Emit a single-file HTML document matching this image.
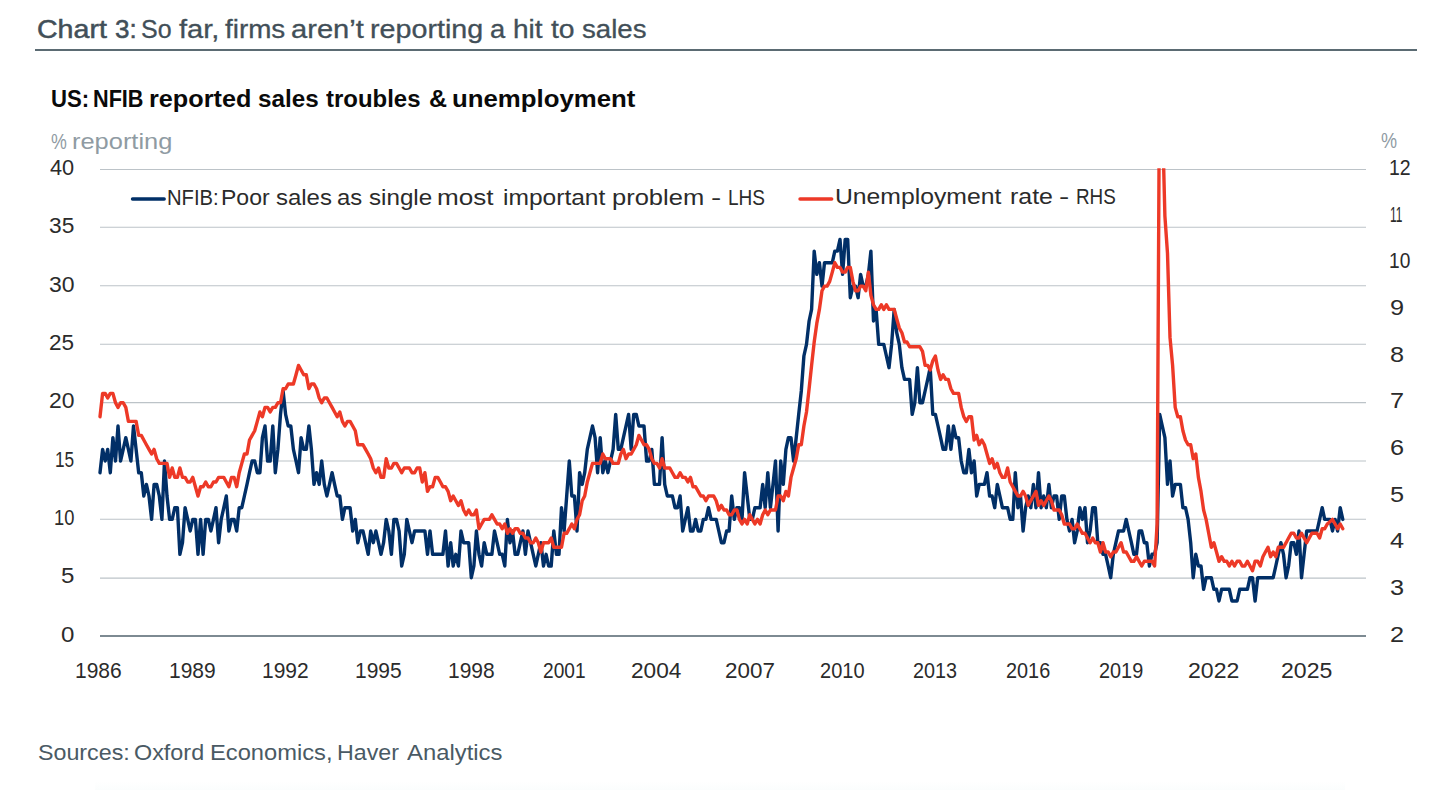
<!DOCTYPE html>
<html><head><meta charset="utf-8"><title>Chart 3</title>
<style>
html,body{margin:0;padding:0;background:#fff;}
body{width:1440px;height:790px;position:relative;overflow:hidden;font-family:"Liberation Sans",sans-serif;}
.tx{position:absolute;white-space:nowrap;transform-origin:0 0;}
.t{color:#424f58;-webkit-text-stroke:0.3px #424f58}
.t.b{-webkit-text-stroke:0.5px #424f58}
.hr{position:absolute;left:34.5px;top:49px;width:1382px;height:2px;background:#5b6b73}
.st{font-weight:bold;color:#0a0a0a}
.ax{color:#8f9ba3}
.tk{color:#2b2b2b}
.lg{color:#2b2b2b}
.src{color:#4a5a64}
svg{position:absolute;left:0;top:0}
</style></head><body>
<div class="tx t b" style="left:37.32px;top:17.05px;font-size:25px;line-height:25px;transform:scaleX(1.1423)">Chart</div>
<div class="tx t b" style="left:115.26px;top:17.05px;font-size:25px;line-height:25px;transform:scaleX(1.0400)">3:</div>
<div class="tx t" style="left:141.35px;top:17.05px;font-size:25px;line-height:25px;transform:scaleX(0.9982)">So</div>
<div class="tx t" style="left:178.51px;top:17.05px;font-size:25px;line-height:25px;transform:scaleX(1.1628)">far,</div>
<div class="tx t" style="left:225.22px;top:17.05px;font-size:25px;line-height:25px;transform:scaleX(1.1132)">firms</div>
<div class="tx t" style="left:291.34px;top:17.05px;font-size:25px;line-height:25px;transform:scaleX(1.1641)">aren’t</div>
<div class="tx t" style="left:369.99px;top:17.05px;font-size:25px;line-height:25px;transform:scaleX(1.1475)">reporting</div>
<div class="tx t" style="left:490.21px;top:17.05px;font-size:25px;line-height:25px;transform:scaleX(1.0923)">a</div>
<div class="tx t" style="left:513.04px;top:17.05px;font-size:25px;line-height:25px;transform:scaleX(1.1224)">hit</div>
<div class="tx t" style="left:551.43px;top:17.05px;font-size:25px;line-height:25px;transform:scaleX(1.1325)">to</div>
<div class="tx t" style="left:581.67px;top:17.05px;font-size:25px;line-height:25px;transform:scaleX(1.1048)">sales</div>
<div class="hr"></div>
<div class="tx st" style="left:50.85px;top:87.70px;font-size:23px;line-height:23px;transform:scaleX(0.9639)">US:</div>
<div class="tx st" style="left:93.09px;top:87.70px;font-size:23px;line-height:23px;transform:scaleX(0.9412)">NFIB</div>
<div class="tx st" style="left:148.85px;top:87.70px;font-size:23px;line-height:23px;transform:scaleX(1.0970)">reported</div>
<div class="tx st" style="left:258.01px;top:87.70px;font-size:23px;line-height:23px;transform:scaleX(1.0529)">sales</div>
<div class="tx st" style="left:326.04px;top:87.70px;font-size:23px;line-height:23px;transform:scaleX(1.0413)">troubles</div>
<div class="tx st" style="left:428.91px;top:87.70px;font-size:23px;line-height:23px;transform:scaleX(1.0867)">&amp;</div>
<div class="tx st" style="left:452.12px;top:87.70px;font-size:23px;line-height:23px;transform:scaleX(1.1215)">unemployment</div>
<div class="tx ax" style="left:51.08px;top:131.50px;font-size:21.5px;line-height:21.5px;transform:scaleX(0.8286)">%</div>
<div class="tx ax" style="left:71.63px;top:131.50px;font-size:21.5px;line-height:21.5px;transform:scaleX(1.1829)">reporting</div>
<div class="tx ax" style="left:1381.06px;top:131.30px;font-size:21.5px;line-height:21.5px;letter-spacing:0.00px;transform:scale(0.8412,1.000);">%</div>
<svg width="1440" height="790" viewBox="0 0 1440 790">
<line x1="100" x2="1366" y1="578.10" y2="578.10" stroke="#bcc3c8" stroke-width="1.05"/>
<line x1="100" x2="1366" y1="519.30" y2="519.30" stroke="#bcc3c8" stroke-width="1.05"/>
<line x1="100" x2="1366" y1="460.90" y2="460.90" stroke="#bcc3c8" stroke-width="1.05"/>
<line x1="100" x2="1366" y1="402.60" y2="402.60" stroke="#bcc3c8" stroke-width="1.05"/>
<line x1="100" x2="1366" y1="344.30" y2="344.30" stroke="#bcc3c8" stroke-width="1.05"/>
<line x1="100" x2="1366" y1="285.75" y2="285.75" stroke="#bcc3c8" stroke-width="1.05"/>
<line x1="100" x2="1366" y1="227.30" y2="227.30" stroke="#bcc3c8" stroke-width="1.05"/>
<line x1="100" x2="1366" y1="169.40" y2="169.40" stroke="#bcc3c8" stroke-width="1.05"/>
<rect x="100" y="635" width="1266" height="2" fill="#7d8a92"/>
<defs><clipPath id="cp"><rect x="90" y="168.3" width="1290" height="480"/></clipPath></defs>
<g clip-path="url(#cp)" fill="none" stroke-linejoin="round" stroke-linecap="round" stroke-width="3.4">
<path d="M100.0,472.7 L102.6,449.4 L105.2,461.0 L107.7,449.4 L110.3,472.7 L112.9,437.7 L115.5,461.0 L118.0,426.0 L120.6,461.0 L123.2,449.4 L125.8,437.7 L128.4,449.4 L130.9,461.0 L133.5,426.0 L136.1,449.4 L138.7,472.7 L141.3,472.7 L143.8,496.0 L146.4,484.4 L149.0,496.0 L151.6,519.4 L154.1,484.4 L156.7,484.4 L159.3,496.0 L161.9,519.4 L164.5,461.0 L167.0,496.0 L169.6,519.4 L172.2,519.4 L174.8,507.7 L177.4,507.7 L179.9,554.3 L182.5,542.7 L185.1,507.7 L187.7,519.4 L190.2,531.0 L192.8,519.4 L195.4,519.4 L198.0,554.3 L200.6,519.4 L203.1,554.3 L205.7,519.4 L208.3,519.4 L210.9,531.0 L213.5,519.4 L216.0,507.7 L218.6,542.7 L221.2,519.4 L223.8,507.7 L226.3,496.0 L228.9,531.0 L231.5,519.4 L234.1,519.4 L236.7,531.0 L239.2,507.7 L241.8,507.7 L244.4,496.0 L247.0,484.4 L249.5,472.7 L252.1,461.0 L254.7,461.0 L257.3,472.7 L259.9,472.7 L262.4,437.7 L265.0,426.0 L267.6,461.0 L270.2,461.0 L272.8,426.0 L275.3,472.7 L277.9,449.4 L280.5,414.4 L283.1,391.0 L285.6,414.4 L288.2,426.0 L290.8,426.0 L293.4,449.4 L296.0,461.0 L298.5,472.7 L301.1,437.7 L303.7,449.4 L306.3,449.4 L308.9,426.0 L311.4,449.4 L314.0,484.4 L316.6,472.7 L319.2,484.4 L321.7,461.0 L324.3,484.4 L326.9,496.0 L329.5,484.4 L332.1,472.7 L334.6,484.4 L337.2,496.0 L339.8,496.0 L342.4,519.4 L344.9,507.7 L347.5,507.7 L350.1,507.7 L352.7,531.0 L355.3,519.4 L357.8,542.7 L360.4,531.0 L363.0,531.0 L365.6,542.7 L368.2,554.3 L370.7,531.0 L373.3,542.7 L375.9,531.0 L378.5,542.7 L381.0,554.3 L383.6,542.7 L386.2,519.4 L388.8,531.0 L391.4,554.3 L393.9,519.4 L396.5,519.4 L399.1,531.0 L401.7,566.0 L404.3,554.3 L406.8,519.4 L409.4,531.0 L412.0,542.7 L414.6,531.0 L417.1,531.0 L419.7,531.0 L422.3,531.0 L424.9,531.0 L427.5,554.3 L430.0,531.0 L432.6,554.3 L435.2,554.3 L437.8,554.3 L440.4,554.3 L442.9,554.3 L445.5,531.0 L448.1,566.0 L450.7,542.7 L453.2,566.0 L455.8,554.3 L458.4,566.0 L461.0,531.0 L463.6,542.7 L466.1,542.7 L468.7,542.7 L471.3,577.7 L473.9,566.0 L476.4,531.0 L479.0,554.3 L481.6,566.0 L484.2,542.7 L486.8,554.3 L489.3,554.3 L491.9,554.3 L494.5,531.0 L497.1,542.7 L499.7,554.3 L502.2,554.3 L504.8,566.0 L507.4,519.4 L510.0,542.7 L512.5,531.0 L515.1,554.3 L517.7,554.3 L520.3,542.7 L522.9,531.0 L525.4,554.3 L528.0,531.0 L530.6,542.7 L533.2,554.3 L535.8,566.0 L538.3,554.3 L540.9,542.7 L543.5,566.0 L546.1,554.3 L548.6,566.0 L551.2,566.0 L553.8,531.0 L556.4,554.3 L559.0,554.3 L561.5,507.7 L564.1,531.0 L566.7,496.0 L569.3,461.0 L571.8,496.0 L574.4,496.0 L577.0,531.0 L579.6,472.7 L582.2,484.4 L584.7,472.7 L587.3,449.4 L589.9,437.7 L592.5,426.0 L595.1,437.7 L597.6,472.7 L600.2,437.7 L602.8,472.7 L605.4,461.0 L607.9,472.7 L610.5,461.0 L613.1,449.4 L615.7,414.4 L618.3,449.4 L620.8,449.4 L623.4,437.7 L626.0,426.0 L628.6,414.4 L631.2,449.4 L633.7,414.4 L636.3,414.4 L638.9,426.0 L641.5,426.0 L644.0,426.0 L646.6,461.0 L649.2,461.0 L651.8,449.4 L654.4,484.4 L656.9,484.4 L659.5,484.4 L662.1,437.7 L664.7,484.4 L667.3,496.0 L669.8,496.0 L672.4,496.0 L675.0,507.7 L677.6,507.7 L680.1,496.0 L682.7,531.0 L685.3,519.4 L687.9,507.7 L690.5,531.0 L693.0,531.0 L695.6,519.4 L698.2,531.0 L700.8,531.0 L703.3,519.4 L705.9,519.4 L708.5,507.7 L711.1,519.4 L713.7,519.4 L716.2,519.4 L718.8,531.0 L721.4,542.7 L724.0,542.7 L726.6,531.0 L729.1,531.0 L731.7,496.0 L734.3,519.4 L736.9,507.7 L739.4,507.7 L742.0,519.4 L744.6,472.7 L747.2,496.0 L749.8,519.4 L752.3,519.4 L754.9,507.7 L757.5,507.7 L760.1,507.7 L762.7,484.4 L765.2,507.7 L767.8,472.7 L770.4,507.7 L773.0,484.4 L775.5,461.0 L778.1,531.0 L780.7,461.0 L783.3,484.4 L785.9,449.4 L788.4,437.7 L791.0,437.7 L793.6,461.0 L796.2,437.7 L798.7,414.4 L801.3,391.0 L803.9,356.0 L806.5,344.4 L809.1,321.0 L811.6,309.4 L814.2,251.1 L816.8,274.4 L819.4,262.7 L822.0,286.1 L824.5,262.7 L827.1,262.7 L829.7,262.7 L832.3,262.7 L834.8,251.1 L837.4,251.1 L840.0,239.4 L842.6,274.4 L845.2,239.4 L847.7,239.4 L850.3,297.7 L852.9,286.1 L855.5,286.1 L858.1,297.7 L860.6,274.4 L863.2,286.1 L865.8,286.1 L868.4,274.4 L870.9,251.1 L873.5,321.0 L876.1,309.4 L878.7,344.4 L881.3,344.4 L883.8,344.4 L886.4,356.0 L889.0,367.7 L891.6,344.4 L894.2,309.4 L896.7,332.7 L899.3,344.4 L901.9,367.7 L904.5,379.4 L907.0,379.4 L909.6,379.4 L912.2,414.4 L914.8,402.7 L917.4,367.7 L919.9,402.7 L922.5,402.7 L925.1,391.0 L927.7,379.4 L930.2,367.7 L932.8,414.4 L935.4,414.4 L938.0,426.0 L940.6,437.7 L943.1,449.4 L945.7,449.4 L948.3,426.0 L950.9,449.4 L953.5,426.0 L956.0,437.7 L958.6,437.7 L961.2,461.0 L963.8,472.7 L966.3,472.7 L968.9,449.4 L971.5,472.7 L974.1,461.0 L976.7,496.0 L979.2,484.4 L981.8,484.4 L984.4,484.4 L987.0,472.7 L989.6,496.0 L992.1,496.0 L994.7,507.7 L997.3,484.4 L999.9,496.0 L1002.4,507.7 L1005.0,507.7 L1007.6,507.7 L1010.2,519.4 L1012.8,519.4 L1015.3,472.7 L1017.9,507.7 L1020.5,496.0 L1023.1,531.0 L1025.6,507.7 L1028.2,496.0 L1030.8,507.7 L1033.4,484.4 L1036.0,507.7 L1038.5,472.7 L1041.1,507.7 L1043.7,496.0 L1046.3,507.7 L1048.9,484.4 L1051.4,507.7 L1054.0,496.0 L1056.6,496.0 L1059.2,519.4 L1061.7,496.0 L1064.3,496.0 L1066.9,519.4 L1069.5,531.0 L1072.1,519.4 L1074.6,542.7 L1077.2,531.0 L1079.8,507.7 L1082.4,519.4 L1085.0,507.7 L1087.5,542.7 L1090.1,531.0 L1092.7,507.7 L1095.3,507.7 L1097.8,542.7 L1100.4,542.7 L1103.0,554.3 L1105.6,554.3 L1108.2,566.0 L1110.7,577.7 L1113.3,554.3 L1115.9,542.7 L1118.5,531.0 L1121.1,531.0 L1123.6,531.0 L1126.2,519.4 L1128.8,531.0 L1131.4,542.7 L1133.9,554.3 L1136.5,554.3 L1139.1,531.0 L1141.7,531.0 L1144.3,542.7 L1146.8,542.7 L1149.4,566.0 L1152.0,554.3 L1154.6,554.3 L1157.1,542.7 L1159.7,414.4 L1162.3,426.0 L1164.9,437.7 L1167.5,484.4 L1170.0,461.0 L1172.6,496.0 L1175.2,484.4 L1177.8,484.4 L1180.4,484.4 L1182.9,507.7 L1185.5,507.7 L1188.1,519.4 L1190.7,542.7 L1193.2,577.7 L1195.8,554.3 L1198.4,566.0 L1201.0,566.0 L1203.6,589.3 L1206.1,577.7 L1208.7,577.7 L1211.3,577.7 L1213.9,589.3 L1216.5,589.3 L1219.0,601.0 L1221.6,589.3 L1224.2,589.3 L1226.8,589.3 L1229.3,589.3 L1231.9,601.0 L1234.5,601.0 L1237.1,601.0 L1239.7,589.3 L1242.2,589.3 L1244.8,589.3 L1247.4,589.3 L1250.0,577.7 L1252.5,577.7 L1255.1,601.0 L1257.7,577.7 L1260.3,577.7 L1262.9,577.7 L1265.4,577.7 L1268.0,577.7 L1270.6,577.7 L1273.2,577.7 L1275.8,566.0 L1278.3,554.3 L1280.9,542.7 L1283.5,554.3 L1286.1,577.7 L1288.6,566.0 L1291.2,542.7 L1293.8,542.7 L1296.4,554.3 L1299.0,531.0 L1301.5,577.7 L1304.1,554.3 L1306.7,531.0 L1309.3,531.0 L1311.9,531.0 L1314.4,531.0 L1317.0,531.0 L1319.6,519.4 L1322.2,507.7 L1324.7,519.4 L1327.3,519.4 L1329.9,519.4 L1332.5,531.0 L1335.1,519.4 L1337.6,531.0 L1340.2,507.7 L1342.8,519.4" stroke="#012f67"/>
<path d="M100.0,416.7 L102.6,393.4 L105.2,393.4 L107.7,398.0 L110.3,393.4 L112.9,393.4 L115.5,402.7 L118.0,407.4 L120.6,402.7 L123.2,402.7 L125.8,407.4 L128.4,421.4 L130.9,421.4 L133.5,421.4 L136.1,421.4 L138.7,435.4 L141.3,435.4 L143.8,440.0 L146.4,444.7 L149.0,449.4 L151.6,454.0 L154.1,449.4 L156.7,458.7 L159.3,463.4 L161.9,463.4 L164.5,463.4 L167.0,463.4 L169.6,477.4 L172.2,468.0 L174.8,477.4 L177.4,477.4 L179.9,468.0 L182.5,477.4 L185.1,477.4 L187.7,482.0 L190.2,482.0 L192.8,477.4 L195.4,486.7 L198.0,496.0 L200.6,486.7 L203.1,486.7 L205.7,482.0 L208.3,486.7 L210.9,486.7 L213.5,482.0 L216.0,482.0 L218.6,477.4 L221.2,477.4 L223.8,477.4 L226.3,482.0 L228.9,486.7 L231.5,477.4 L234.1,477.4 L236.7,486.7 L239.2,472.7 L241.8,463.4 L244.4,454.0 L247.0,454.0 L249.5,440.0 L252.1,435.4 L254.7,430.7 L257.3,421.4 L259.9,412.0 L262.4,416.7 L265.0,407.4 L267.6,407.4 L270.2,412.0 L272.8,407.4 L275.3,407.4 L277.9,402.7 L280.5,402.7 L283.1,388.7 L285.6,388.7 L288.2,384.0 L290.8,384.0 L293.4,384.0 L296.0,374.7 L298.5,365.4 L301.1,370.0 L303.7,374.7 L306.3,374.7 L308.9,388.7 L311.4,384.0 L314.0,384.0 L316.6,388.7 L319.2,398.0 L321.7,402.7 L324.3,398.0 L326.9,398.0 L329.5,402.7 L332.1,407.4 L334.6,412.0 L337.2,416.7 L339.8,412.0 L342.4,421.4 L344.9,426.0 L347.5,421.4 L350.1,421.4 L352.7,426.0 L355.3,430.7 L357.8,444.7 L360.4,444.7 L363.0,444.7 L365.6,449.4 L368.2,454.0 L370.7,458.7 L373.3,468.0 L375.9,472.7 L378.5,468.0 L381.0,477.4 L383.6,477.4 L386.2,458.7 L388.8,468.0 L391.4,468.0 L393.9,463.4 L396.5,463.4 L399.1,468.0 L401.7,472.7 L404.3,468.0 L406.8,468.0 L409.4,468.0 L412.0,472.7 L414.6,472.7 L417.1,468.0 L419.7,468.0 L422.3,482.0 L424.9,472.7 L427.5,491.4 L430.0,486.7 L432.6,486.7 L435.2,477.4 L437.8,477.4 L440.4,482.0 L442.9,486.7 L445.5,486.7 L448.1,491.4 L450.7,500.7 L453.2,496.0 L455.8,500.7 L458.4,505.4 L461.0,500.7 L463.6,510.0 L466.1,514.7 L468.7,510.0 L471.3,514.7 L473.9,514.7 L476.4,510.0 L479.0,528.7 L481.6,524.0 L484.2,519.4 L486.8,519.4 L489.3,519.4 L491.9,514.7 L494.5,519.4 L497.1,524.0 L499.7,524.0 L502.2,528.7 L504.8,524.0 L507.4,533.3 L510.0,528.7 L512.5,533.3 L515.1,528.7 L517.7,528.7 L520.3,533.3 L522.9,533.3 L525.4,538.0 L528.0,538.0 L530.6,542.7 L533.2,542.7 L535.8,538.0 L538.3,542.7 L540.9,552.0 L543.5,542.7 L546.1,542.7 L548.6,542.7 L551.2,538.0 L553.8,547.3 L556.4,547.3 L559.0,547.3 L561.5,547.3 L564.1,533.3 L566.7,533.3 L569.3,528.7 L571.8,524.0 L574.4,528.7 L577.0,519.4 L579.6,514.7 L582.2,500.7 L584.7,496.0 L587.3,482.0 L589.9,472.7 L592.5,463.4 L595.1,463.4 L597.6,463.4 L600.2,463.4 L602.8,454.0 L605.4,458.7 L607.9,458.7 L610.5,458.7 L613.1,463.4 L615.7,463.4 L618.3,463.4 L620.8,454.0 L623.4,449.4 L626.0,458.7 L628.6,454.0 L631.2,454.0 L633.7,449.4 L636.3,444.7 L638.9,435.4 L641.5,440.0 L644.0,444.7 L646.6,444.7 L649.2,449.4 L651.8,458.7 L654.4,463.4 L656.9,463.4 L659.5,468.0 L662.1,458.7 L664.7,468.0 L667.3,468.0 L669.8,468.0 L672.4,472.7 L675.0,477.4 L677.6,477.4 L680.1,472.7 L682.7,477.4 L685.3,477.4 L687.9,482.0 L690.5,477.4 L693.0,486.7 L695.6,486.7 L698.2,491.4 L700.8,496.0 L703.3,496.0 L705.9,500.7 L708.5,496.0 L711.1,496.0 L713.7,496.0 L716.2,500.7 L718.8,510.0 L721.4,505.4 L724.0,510.0 L726.6,510.0 L729.1,514.7 L731.7,514.7 L734.3,510.0 L736.9,510.0 L739.4,519.4 L742.0,524.0 L744.6,519.4 L747.2,524.0 L749.8,514.7 L752.3,519.4 L754.9,524.0 L757.5,519.4 L760.1,524.0 L762.7,514.7 L765.2,510.0 L767.8,514.7 L770.4,510.0 L773.0,510.0 L775.5,510.0 L778.1,496.0 L780.7,496.0 L783.3,500.7 L785.9,491.4 L788.4,496.0 L791.0,477.4 L793.6,468.0 L796.2,458.7 L798.7,444.7 L801.3,444.7 L803.9,426.0 L806.5,412.0 L809.1,388.7 L811.6,365.4 L814.2,342.0 L816.8,323.4 L819.4,309.4 L822.0,290.7 L824.5,286.1 L827.1,286.1 L829.7,281.4 L832.3,272.1 L834.8,262.7 L837.4,267.4 L840.0,267.4 L842.6,272.1 L845.2,272.1 L847.7,267.4 L850.3,267.4 L852.9,281.4 L855.5,290.7 L858.1,290.7 L860.6,286.1 L863.2,286.1 L865.8,290.7 L868.4,272.1 L870.9,295.4 L873.5,304.7 L876.1,309.4 L878.7,309.4 L881.3,304.7 L883.8,309.4 L886.4,304.7 L889.0,309.4 L891.6,309.4 L894.2,309.4 L896.7,318.7 L899.3,328.0 L901.9,332.7 L904.5,342.0 L907.0,342.0 L909.6,346.7 L912.2,346.7 L914.8,346.7 L917.4,346.7 L919.9,346.7 L922.5,351.4 L925.1,365.4 L927.7,365.4 L930.2,370.0 L932.8,360.7 L935.4,356.0 L938.0,370.0 L940.6,379.4 L943.1,374.7 L945.7,379.4 L948.3,379.4 L950.9,388.7 L953.5,393.4 L956.0,393.4 L958.6,393.4 L961.2,407.4 L963.8,416.7 L966.3,421.4 L968.9,416.7 L971.5,416.7 L974.1,440.0 L976.7,435.4 L979.2,444.7 L981.8,440.0 L984.4,444.7 L987.0,454.0 L989.6,463.4 L992.1,458.7 L994.7,468.0 L997.3,463.4 L999.9,472.7 L1002.4,477.4 L1005.0,477.4 L1007.6,468.0 L1010.2,482.0 L1012.8,486.7 L1015.3,491.4 L1017.9,496.0 L1020.5,496.0 L1023.1,491.4 L1025.6,496.0 L1028.2,505.4 L1030.8,500.7 L1033.4,496.0 L1036.0,491.4 L1038.5,505.4 L1041.1,500.7 L1043.7,505.4 L1046.3,500.7 L1048.9,496.0 L1051.4,500.7 L1054.0,510.0 L1056.6,510.0 L1059.2,510.0 L1061.7,514.7 L1064.3,524.0 L1066.9,524.0 L1069.5,524.0 L1072.1,528.7 L1074.6,528.7 L1077.2,524.0 L1079.8,528.7 L1082.4,533.3 L1085.0,533.3 L1087.5,538.0 L1090.1,542.7 L1092.7,538.0 L1095.3,542.7 L1097.8,542.7 L1100.4,552.0 L1103.0,542.7 L1105.6,552.0 L1108.2,552.0 L1110.7,556.7 L1113.3,552.0 L1115.9,552.0 L1118.5,547.3 L1121.1,542.7 L1123.6,552.0 L1126.2,552.0 L1128.8,556.7 L1131.4,561.3 L1133.9,561.3 L1136.5,556.7 L1139.1,561.3 L1141.7,566.0 L1144.3,561.3 L1146.8,561.3 L1149.4,561.3 L1152.0,561.3 L1154.6,566.0 L1157.1,524.0 L1159.7,38.8 L1162.3,113.4 L1164.9,216.1 L1167.5,253.4 L1170.0,337.4 L1172.6,365.4 L1175.2,407.4 L1177.8,416.7 L1180.4,416.7 L1182.9,430.7 L1185.5,440.0 L1188.1,444.7 L1190.7,444.7 L1193.2,458.7 L1195.8,454.0 L1198.4,477.4 L1201.0,491.4 L1203.6,510.0 L1206.1,519.4 L1208.7,533.3 L1211.3,547.3 L1213.9,542.7 L1216.5,552.0 L1219.0,561.3 L1221.6,556.7 L1224.2,561.3 L1226.8,561.3 L1229.3,566.0 L1231.9,561.3 L1234.5,566.0 L1237.1,561.3 L1239.7,561.3 L1242.2,566.0 L1244.8,566.0 L1247.4,561.3 L1250.0,566.0 L1252.5,570.7 L1255.1,561.3 L1257.7,561.3 L1260.3,566.0 L1262.9,556.7 L1265.4,552.0 L1268.0,547.3 L1270.6,556.7 L1273.2,552.0 L1275.8,556.7 L1278.3,547.3 L1280.9,547.3 L1283.5,547.3 L1286.1,542.7 L1288.6,538.0 L1291.2,533.3 L1293.8,533.3 L1296.4,538.0 L1299.0,538.0 L1301.5,533.3 L1304.1,538.0 L1306.7,542.7 L1309.3,538.0 L1311.9,533.3 L1314.4,533.3 L1317.0,533.3 L1319.6,538.0 L1322.2,528.7 L1324.7,528.7 L1327.3,524.0 L1329.9,521.7 L1332.5,519.4 L1335.1,524.0 L1337.6,528.7 L1340.2,524.0 L1342.8,528.7" stroke="#ed3927"/>
</g>
<g stroke-linecap="round" stroke-width="3.4">
<line x1="132.5" x2="164.2" y1="199" y2="199" stroke="#012f67"/>
<line x1="800" x2="831.7" y1="199" y2="199" stroke="#ed3927"/>
</g>
</svg>
<div class="tx tk" style="left:61.01px;top:623.64px;font-size:22.4px;line-height:22.4px;letter-spacing:0.00px;transform:scale(1.0753,1.000);">0</div>
<div class="tx tk" style="left:61.01px;top:565.31px;font-size:22.4px;line-height:22.4px;letter-spacing:0.00px;transform:scale(1.0753,1.000);">5</div>
<div class="tx tk" style="left:53.77px;top:506.99px;font-size:22.4px;line-height:22.4px;letter-spacing:0.00px;transform:scale(0.8177,1.000);">10</div>
<div class="tx tk" style="left:54.92px;top:448.66px;font-size:22.4px;line-height:22.4px;letter-spacing:0.00px;transform:scale(0.7696,1.000);">15</div>
<div class="tx tk" style="left:48.86px;top:390.34px;font-size:22.4px;line-height:22.4px;letter-spacing:0.00px;transform:scale(1.0232,1.000);">20</div>
<div class="tx tk" style="left:49.28px;top:332.01px;font-size:22.4px;line-height:22.4px;letter-spacing:0.00px;transform:scale(1.0058,1.000);">25</div>
<div class="tx tk" style="left:48.75px;top:273.69px;font-size:22.4px;line-height:22.4px;letter-spacing:0.00px;transform:scale(1.0276,1.000);">30</div>
<div class="tx tk" style="left:49.07px;top:215.36px;font-size:22.4px;line-height:22.4px;letter-spacing:0.00px;transform:scale(1.0145,1.000);">35</div>
<div class="tx tk" style="left:50.11px;top:157.04px;font-size:22.4px;line-height:22.4px;letter-spacing:0.00px;transform:scale(0.9708,1.000);">40</div>
<div class="tx tk" style="left:1390.35px;top:623.64px;font-size:22.4px;line-height:22.4px;letter-spacing:0.00px;transform:scale(1.1295,1.000);">2</div>
<div class="tx tk" style="left:1390.35px;top:576.98px;font-size:22.4px;line-height:22.4px;letter-spacing:0.00px;transform:scale(1.1295,1.000);">3</div>
<div class="tx tk" style="left:1390.35px;top:530.32px;font-size:22.4px;line-height:22.4px;letter-spacing:0.00px;transform:scale(1.1295,1.000);">4</div>
<div class="tx tk" style="left:1390.35px;top:483.66px;font-size:22.4px;line-height:22.4px;letter-spacing:0.00px;transform:scale(1.1295,1.000);">5</div>
<div class="tx tk" style="left:1390.35px;top:437.00px;font-size:22.4px;line-height:22.4px;letter-spacing:0.00px;transform:scale(1.1295,1.000);">6</div>
<div class="tx tk" style="left:1390.35px;top:390.34px;font-size:22.4px;line-height:22.4px;letter-spacing:0.00px;transform:scale(1.1295,1.000);">7</div>
<div class="tx tk" style="left:1390.35px;top:343.68px;font-size:22.4px;line-height:22.4px;letter-spacing:0.00px;transform:scale(1.1295,1.000);">8</div>
<div class="tx tk" style="left:1390.35px;top:297.02px;font-size:22.4px;line-height:22.4px;letter-spacing:0.00px;transform:scale(1.1295,1.000);">9</div>
<div class="tx tk" style="left:1389.46px;top:250.36px;font-size:22.4px;line-height:22.4px;letter-spacing:0.00px;transform:scale(0.8559,1.000);">10</div>
<div class="tx tk" style="left:1390.11px;top:203.70px;font-size:22.4px;line-height:22.4px;letter-spacing:0.00px;transform:scale(0.5332,1.000);">11</div>
<div class="tx tk" style="left:1389.43px;top:157.04px;font-size:22.4px;line-height:22.4px;letter-spacing:0.00px;transform:scale(0.8699,1.000);">12</div>
<div class="tx tk" style="left:75.37px;top:660.34px;font-size:22.4px;line-height:22.4px;letter-spacing:0.00px;transform:scale(0.9378,1.000);">1986</div>
<div class="tx tk" style="left:169.19px;top:660.34px;font-size:22.4px;line-height:22.4px;letter-spacing:0.00px;transform:scale(0.9378,1.000);">1989</div>
<div class="tx tk" style="left:262.01px;top:660.34px;font-size:22.4px;line-height:22.4px;letter-spacing:0.00px;transform:scale(0.9378,1.000);">1992</div>
<div class="tx tk" style="left:354.84px;top:660.34px;font-size:22.4px;line-height:22.4px;letter-spacing:0.00px;transform:scale(0.9378,1.000);">1995</div>
<div class="tx tk" style="left:447.66px;top:660.34px;font-size:22.4px;line-height:22.4px;letter-spacing:0.00px;transform:scale(0.9378,1.000);">1998</div>
<div class="tx tk" style="left:542.61px;top:660.34px;font-size:22.4px;line-height:22.4px;letter-spacing:0.00px;transform:scale(0.8533,1.000);">2001</div>
<div class="tx tk" style="left:631.44px;top:660.34px;font-size:22.4px;line-height:22.4px;letter-spacing:0.00px;transform:scale(1.0117,1.000);">2004</div>
<div class="tx tk" style="left:724.53px;top:660.34px;font-size:22.4px;line-height:22.4px;letter-spacing:0.00px;transform:scale(1.0012,1.000);">2007</div>
<div class="tx tk" style="left:820.07px;top:660.34px;font-size:22.4px;line-height:22.4px;letter-spacing:0.00px;transform:scale(0.8934,1.000);">2010</div>
<div class="tx tk" style="left:913.16px;top:660.34px;font-size:22.4px;line-height:22.4px;letter-spacing:0.00px;transform:scale(0.8829,1.000);">2013</div>
<div class="tx tk" style="left:1005.87px;top:660.34px;font-size:22.4px;line-height:22.4px;letter-spacing:0.00px;transform:scale(0.8871,1.000);">2016</div>
<div class="tx tk" style="left:1098.70px;top:660.34px;font-size:22.4px;line-height:22.4px;letter-spacing:0.00px;transform:scale(0.8871,1.000);">2019</div>
<div class="tx tk" style="left:1187.90px;top:660.34px;font-size:22.4px;line-height:22.4px;letter-spacing:0.00px;transform:scale(1.0307,1.000);">2022</div>
<div class="tx tk" style="left:1280.72px;top:660.34px;font-size:22.4px;line-height:22.4px;letter-spacing:0.00px;transform:scale(1.0307,1.000);">2025</div>
<div class="tx lg" style="left:167.15px;top:187.70px;font-size:21.5px;line-height:21.5px;transform:scaleX(0.9405)">NFIB:</div>
<div class="tx lg" style="left:220.63px;top:187.70px;font-size:21.5px;line-height:21.5px;transform:scaleX(1.0705)">Poor</div>
<div class="tx lg" style="left:276.16px;top:187.70px;font-size:21.5px;line-height:21.5px;transform:scaleX(1.1138)">sales</div>
<div class="tx lg" style="left:336.89px;top:187.70px;font-size:21.5px;line-height:21.5px;transform:scaleX(1.1095)">as</div>
<div class="tx lg" style="left:369.16px;top:187.70px;font-size:21.5px;line-height:21.5px;transform:scaleX(1.1248)">single</div>
<div class="tx lg" style="left:436.98px;top:187.70px;font-size:21.5px;line-height:21.5px;transform:scaleX(1.2133)">most</div>
<div class="tx lg" style="left:502.79px;top:187.70px;font-size:21.5px;line-height:21.5px;transform:scaleX(1.1420)">important</div>
<div class="tx lg" style="left:612.02px;top:187.70px;font-size:21.5px;line-height:21.5px;transform:scaleX(1.1866)">problem</div>
<div class="tx lg" style="left:711.07px;top:187.70px;font-size:21.5px;line-height:21.5px;transform:scaleX(1.4286)">-</div>
<div class="tx lg" style="left:727.95px;top:187.70px;font-size:21.5px;line-height:21.5px;transform:scaleX(0.8846)">LHS</div>
<div class="tx lg" style="left:835.09px;top:187.45px;font-size:21.5px;line-height:21.5px;transform:scaleX(1.1503)">Unemployment</div>
<div class="tx lg" style="left:1009.56px;top:187.45px;font-size:21.5px;line-height:21.5px;transform:scaleX(1.1594)">rate</div>
<div class="tx lg" style="left:1059.07px;top:187.45px;font-size:21.5px;line-height:21.5px;transform:scaleX(1.4286)">-</div>
<div class="tx lg" style="left:1075.96px;top:187.45px;font-size:21.5px;line-height:21.5px;transform:scaleX(0.8772)">RHS</div>
<div class="tx src" style="left:38.37px;top:742.05px;font-size:22.5px;line-height:22.5px;transform:scaleX(1.0332)">Sources:</div>
<div class="tx src" style="left:133.96px;top:742.05px;font-size:22.5px;line-height:22.5px;transform:scaleX(1.0385)">Oxford</div>
<div class="tx src" style="left:210.16px;top:742.05px;font-size:22.5px;line-height:22.5px;transform:scaleX(1.0533)">Economics,</div>
<div class="tx src" style="left:336.89px;top:742.05px;font-size:22.5px;line-height:22.5px;transform:scaleX(1.0320)">Haver</div>
<div class="tx src" style="left:406.70px;top:742.05px;font-size:22.5px;line-height:22.5px;transform:scaleX(1.0599)">Analytics</div>
<div style="position:absolute;left:95px;top:781px;width:1250px;height:9px;background:linear-gradient(to bottom,#ffffff,#fbfdfd)"></div>
</body></html>
